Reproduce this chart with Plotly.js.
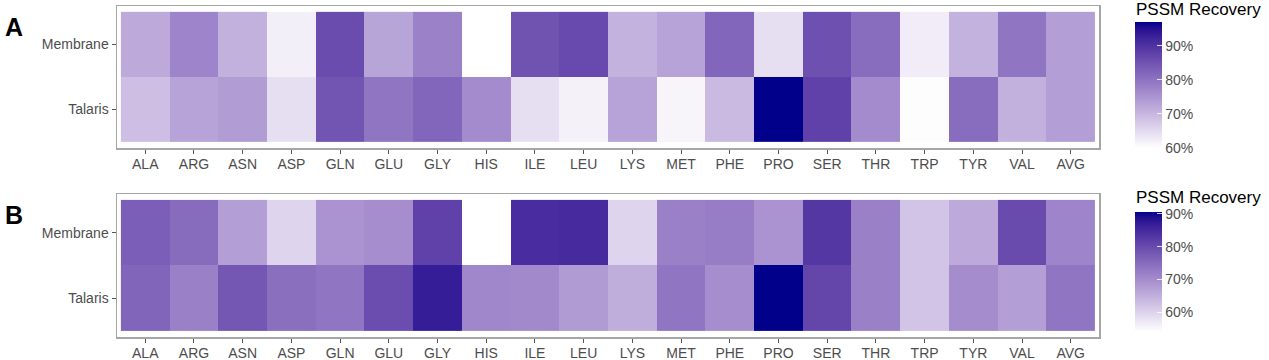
<!DOCTYPE html>
<html>
<head>
<meta charset="utf-8">
<script src="https://cdn.plot.ly/plotly-3.0.1.min.js"></script>
<style>html,body{margin:0;padding:0;background:#fff;}#chart{width:1269px;height:360px;}</style>
</head>
<body>
<div id="chart"></div>
<script>
// ---- data ----
const residues = ['ALA','ARG','ASN','ASP','GLN','GLU','GLY','HIS','ILE','LEU','LYS','MET','PHE','PRO','SER','THR','TRP','TYR','VAL','AVG'];
const rows = ['Talaris','Membrane'];
const aMembrane = [71.8, 77.4, 71, 62.2, 86, 72.7, 77.8, 60, 85, 86.3, 70.7, 73, 82, 64.4, 85.5, 81, 62.6, 70.7, 79.6, 73.7];
const aTalaris  = [68.9, 73, 74, 64.4, 84.8, 79.6, 82, 76.3, 64.4, 61.8, 73, 61.5, 69.6, 97, 87.7, 76.3, 60.2, 81, 71, 73.7];
const bMembrane = [77, 74.9, 67.5, 59.9, 69, 69.7, 81.5, 54, 84.6, 84.9, 59.9, 71.9, 72.3, 69, 82.9, 71.9, 62, 65.7, 80, 71.2];
const bTalaris  = [76, 71.9, 78.2, 74.5, 73.4, 79.6, 87, 70.8, 70.5, 67.9, 65.3, 73.4, 69.7, 90.6, 80.7, 71.9, 62, 70.1, 67.5, 73.4];
const cbTicks = [60, 70, 80, 90];
const cbLabels = ['60%', '70%', '80%', '90%'];

// ---- Lab gradient white -> darkblue (like ggplot scale_fill_gradient) ----
function s2l(c){c/=255;return c<=0.04045?c/12.92:Math.pow((c+0.055)/1.055,2.4);}
function l2s(c){c=Math.max(0,Math.min(1,c));const v=c<=0.0031308?12.92*c:1.055*Math.pow(c,1/2.4)-0.055;return Math.round(v*255);}
const Xn=0.95047,Yn=1,Zn=1.08883;
function f(t){return t>0.008856?Math.cbrt(t):(7.787*t+16/116);}
function finv(t){return t>0.206893?t*t*t:(t-16/116)/7.787;}
function rgb2lab(r,g,b){r=s2l(r);g=s2l(g);b=s2l(b);
  const X=0.4124*r+0.3576*g+0.1805*b,Y=0.2126*r+0.7152*g+0.0722*b,Z=0.0193*r+0.1192*g+0.9505*b;
  const fx=f(X/Xn),fy=f(Y/Yn),fz=f(Z/Zn);return [116*fy-16,500*(fx-fy),200*(fy-fz)];}
function lab2rgb(L,a,b){const fy=(L+16)/116,fx=fy+a/500,fz=fy-b/200;
  const X=Xn*finv(fx),Y=Yn*finv(fy),Z=Zn*finv(fz);
  const r=3.2406*X-1.5372*Y-0.4986*Z,g=-0.9689*X+1.8758*Y+0.0415*Z,bb=0.0557*X-0.2040*Y+1.0570*Z;
  return 'rgb('+l2s(r)+','+l2s(g)+','+l2s(bb)+')';}
const lo=rgb2lab(255,255,255),hi=rgb2lab(0,0,139);
const cscale=[];
for(let i=0;i<=20;i++){const t=i/20;cscale.push([t,lab2rgb(lo[0]+(hi[0]-lo[0])*t,lo[1]+(hi[1]-lo[1])*t,lo[2]+(hi[2]-lo[2])*t)]);}

// ---- layout helpers (pixel -> paper) ----
const ML=117,MR=170,MT=6,MB=23,W=1269,H=360;
const PW=W-ML-MR,PH=H-MT-MB;
const px=x=>(x-ML)/PW, py=y=>(H-MB-y)/PH;
const FONT='Liberation Sans, Arial, sans-serif';

function cb(topPx,lenPx){
  return {x:px(1135),xanchor:'left',xpad:0,y:py(topPx),yanchor:'top',ypad:0,
    len:lenPx,lenmode:'pixels',thickness:27,thicknessmode:'pixels',outlinewidth:0,
    tickmode:'array',tickvals:cbTicks,ticktext:cbLabels,ticks:'inside',ticklen:5,tickcolor:'rgba(255,255,255,0.8)',tickwidth:1,
    tickfont:{family:FONT,size:14,color:'#4d4d4d'}};
}

const traces=[
 {type:'heatmap',x:residues,y:rows,z:[aTalaris,aMembrane],colorscale:cscale,xaxis:'x',yaxis:'y',
  colorbar:cb(22,126),hoverinfo:'skip'},
 {type:'heatmap',x:residues,y:rows,z:[bTalaris,bMembrane],colorscale:cscale,xaxis:'x2',yaxis:'y2',
  colorbar:cb(212,120),hoverinfo:'skip'}
];

function xax(anchor){return {anchor:anchor,domain:[0,1],type:'category',categoryarray:residues,range:[-0.58,19.58],
  showline:true,mirror:true,linecolor:'#a6a6a6',linewidth:1.5,ticks:'outside',ticklen:4,tickcolor:'#555',
  ticklabelstandoff:-1,
  tickfont:{family:FONT,size:14,color:'#4d4d4d'},showgrid:false,zeroline:false,fixedrange:true};}
function yax(anchor,dom){return {anchor:anchor,domain:dom,type:'category',categoryarray:rows,range:[-0.59,1.59],
  showline:true,mirror:true,linecolor:'#a6a6a6',linewidth:1.5,ticks:'outside',ticklen:4,tickcolor:'#555',
  tickfont:{family:FONT,size:14,color:'#4d4d4d'},showgrid:false,zeroline:false,fixedrange:true};}

const layout={
  width:W,height:H,margin:{l:ML,r:MR,t:MT,b:MB},paper_bgcolor:'#fff',plot_bgcolor:'#fff',
  showlegend:false,
  xaxis:xax('y'),yaxis:yax('x',[py(148),1]),
  xaxis2:xax('y2'),yaxis2:yax('x2',[0,py(194)]),
  annotations:[
    {text:'<b>A</b>',xref:'paper',yref:'paper',x:px(14),y:py(27),xanchor:'center',yanchor:'middle',showarrow:false,font:{family:FONT,size:25,color:'#000'}},
    {text:'<b>B</b>',xref:'paper',yref:'paper',x:px(14),y:py(215),xanchor:'center',yanchor:'middle',showarrow:false,font:{family:FONT,size:25,color:'#000'}},
    {text:'PSSM Recovery',xref:'paper',yref:'paper',x:px(1134),y:py(9),xanchor:'left',yanchor:'middle',showarrow:false,font:{family:FONT,size:17,color:'#000'}},
    {text:'PSSM Recovery',xref:'paper',yref:'paper',x:px(1134),y:py(197),xanchor:'left',yanchor:'middle',showarrow:false,font:{family:FONT,size:17,color:'#000'}}
  ]
};
Plotly.newPlot('chart',traces,layout,{displayModeBar:false,staticPlot:true});
</script>
</body>
</html>
